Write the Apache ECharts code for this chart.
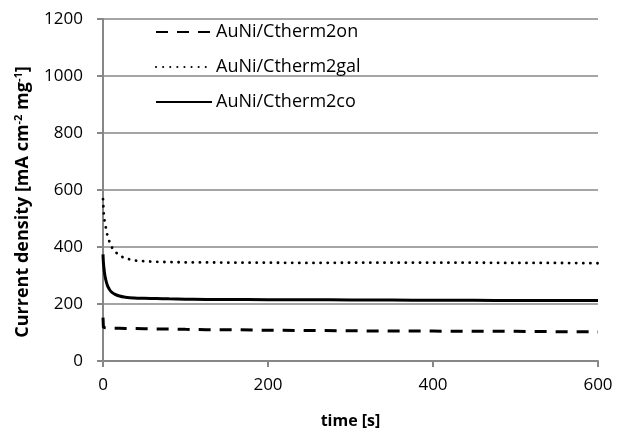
<!DOCTYPE html>
<html>
<head>
<meta charset="utf-8">
<script src="https://cdn.jsdelivr.net/npm/echarts@6/dist/echarts.min.js"></script>
<style>
  html, body { margin: 0; padding: 0; background: #fff; }
  #chart { width: 618px; height: 434px; }
</style>
</head>
<body>
<div id="chart"></div>
<script>
// Sample times in seconds (denser at the start where the current decays fast)
const times = [0, 0.5, 1, 2, 3, 5, 7, 10, 14, 20, 27, 38, 50, 65, 80, 100, 125, 150, 200, 250, 300, 350, 400, 450, 500, 550, 600];

// Current density [mA cm-2 mg-1]
const valuesOn  = [152, 118, 118, 118, 117, 117, 116, 116, 115, 115, 114, 114, 113, 112, 112, 111, 110, 110, 108, 107, 106, 105, 105, 104, 104, 103, 102];
const valuesGal = [568, 540, 515, 490, 475, 445, 425, 402, 385, 370, 360, 353, 350, 348, 347, 346, 346, 345, 345, 344, 345, 345, 345, 345, 344, 344, 343];
const valuesCo  = [374, 345, 330, 305, 290, 268, 255, 243, 235, 228, 224, 221, 220, 219, 218, 217, 216, 216, 215, 215, 214, 214, 213, 213, 212, 212, 212];

const seriesNames = ['AuNi/Ctherm2on', 'AuNi/Ctherm2gal', 'AuNi/Ctherm2co'];
const xTicks = [0, 200, 400, 600];
const yTicks = [0, 200, 400, 600, 800, 1000, 1200];

const pair = vals => times.map((t, i) => [t, vals[i]]);

const gray = '#878787';
const font = '"Open Sans", "Liberation Sans", sans-serif';

const chart = echarts.init(document.getElementById('chart'));
chart.setOption({
  animation: false,
  backgroundColor: '#fff',
  grid: { left: 103, right: 20, top: 19, bottom: 72 },
  legend: {
    orient: 'vertical',
    left: 150,
    top: 18,
    itemWidth: 56,
    itemHeight: 14,
    itemGap: 17,
    itemStyle: { opacity: 0, borderWidth: 0 },
    textStyle: { fontFamily: font, fontSize: 18, color: '#000', padding: [0, 0, 0, -1] },
    data: seriesNames
  },
  xAxis: {
    type: 'value',
    min: xTicks[0],
    max: xTicks[xTicks.length - 1],
    interval: 200,
    name: 'time [s]',
    nameLocation: 'middle',
    nameGap: 52,
    nameTextStyle: { fontFamily: font, fontSize: 16, fontWeight: 'bold', color: '#000' },
    axisLine: { lineStyle: { color: gray, width: 2 } },
    axisTick: { show: true, length: 6, lineStyle: { color: gray, width: 2 } },
    axisLabel: { fontFamily: font, fontSize: 17, color: '#000', margin: 16 },
    splitLine: { show: false }
  },
  yAxis: {
    type: 'value',
    min: yTicks[0],
    max: yTicks[yTicks.length - 1],
    interval: 200,
    name: '{a|Current density [mA cm}{s|-2}{a| mg}{s|-1}{a|]}',
    nameLocation: 'middle',
    nameRotate: 90,
    nameGap: 70,
    nameTextStyle: {
      padding: [0, 24, 0, 0],
      rich: {
        a: { fontFamily: font, fontSize: 18, fontWeight: 'bold', color: '#000' },
        s: { fontFamily: font, fontSize: 11, fontWeight: 'bold', color: '#000', verticalAlign: 'top', padding: [0, 0, 9, 0] }
      }
    },
    axisLine: { show: true, lineStyle: { color: gray, width: 2 } },
    axisTick: { show: true, length: 6, lineStyle: { color: gray, width: 2 } },
    axisLabel: { fontFamily: font, fontSize: 17, color: '#000', margin: 20, formatter: v => String(v) },
    splitLine: { show: true, lineStyle: { color: gray, width: 1.5 } }
  },
  series: [
    {
      name: seriesNames[0], type: 'line', data: pair(valuesOn),
      showSymbol: false, symbol: 'none', smooth: false,
      lineStyle: { color: '#000', width: 3, type: [12, 9] },
      itemStyle: { color: '#000' }
    },
    {
      name: seriesNames[1], type: 'line', data: pair(valuesGal),
      showSymbol: false, symbol: 'none', smooth: false,
      lineStyle: { color: '#000', width: 2.8, type: [0.1, 7], cap: 'round' },
      itemStyle: { color: '#000' }
    },
    {
      name: seriesNames[2], type: 'line', data: pair(valuesCo),
      showSymbol: false, symbol: 'none', smooth: true,
      lineStyle: { color: '#000', width: 3 },
      itemStyle: { color: '#000' }
    }
  ]
});
</script>
</body>
</html>
